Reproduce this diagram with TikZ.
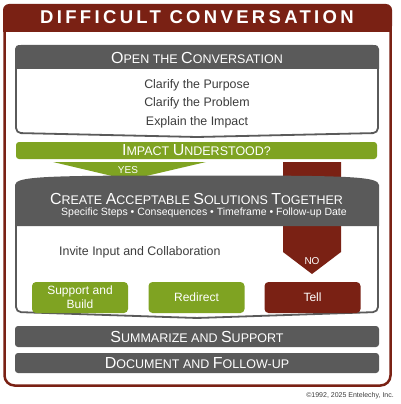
\documentclass[tikz,border=0pt]{standalone}
\usepackage{fontspec}
\setmainfont{Liberation Sans}
\newfontfamily\titlefont[LetterSpace=18]{Liberation Sans}
\usetikzlibrary{positioning}
\definecolor{framered}{HTML}{7A2114}
\definecolor{headgray}{HTML}{5A5A5A}
\definecolor{okgreen}{HTML}{7FA322}
\definecolor{bodytext}{HTML}{3C3C3C}
\newcommand\bigini[1]{{\fontsize{16}{18}\selectfont #1}}

\begin{document}
\begin{tikzpicture}[x=1pt, y=-1pt,
    bar/.style={rounded corners=3pt, minimum width=364pt, inner sep=0pt, text=white, font=\fontsize{12.5}{14}\selectfont},
    choice/.style={rounded corners=4pt, minimum width=96pt, minimum height=31pt, inner sep=1pt, text=white, align=center, font=\fontsize{12}{14}\selectfont},
    item/.style={text=bodytext, font=\fontsize{12.4}{14}\selectfont, inner sep=0pt},
    body/.style={fill=white, draw=headgray, line width=1.8pt, rounded corners=5pt},
    heading/.style={text=white, font=\fontsize{12.5}{14}\selectfont, inner sep=0pt},
    tag/.style={text=white, font=\fontsize{10}{12}\selectfont, inner sep=0pt}
]
    \useasboundingbox (0,0) rectangle (400,404);

    % Outer frame and title band
    \draw[framered, line width=2.5pt, rounded corners=10pt] (4.5,12) rectangle (390.5,385.5);
    \fill[framered, rounded corners=6pt] (3,4) rectangle (392,32);
    \fill[framered] (3,20) rectangle (392,32);
    \node[text=white, font=\titlefont\bfseries\fontsize{18.5}{20}\selectfont, inner sep=0pt] (title) at (197,17.5) {DIFFICULT CONVERSATION};

    % Open the conversation
    \draw[body] (16,66) -- (16,133) -- (197,137) -- (378,133) -- (378,66);
    \fill[headgray] (15,69) -- (15,49) .. controls (15,46) and (17,45) .. (21,45) -- (373,45)
        .. controls (377,45) and (379,46) .. (379,49) -- (379,69) -- cycle;
    \node[heading] (open) at (197,58) {\bigini{O}PEN THE \bigini{C}ONVERSATION};
    \node[item] (purpose) at (197,85) {Clarify the Purpose};
    \node[item] (problem) at (197,103.5) {Clarify the Problem};
    \node[item] (impactx) at (197,122) {Explain the Impact};

    % Decision bar
    \node[bar, fill=okgreen, minimum width=361pt, minimum height=17pt] (impact) at (196.5,150.5)
        {\bigini{I}MPACT \bigini{U}NDERSTOOD?};

    % Create acceptable solutions
    \draw[body] (16,222) -- (16,312) -- (197,318) -- (378,312) -- (378,222);
    \fill[framered] (283,162) -- (341,162) -- (341,252) -- (312,274) -- (283,252) -- cycle;
    \fill[okgreen] (53,162) -- (206,162) -- (129,180) -- cycle;
    \fill[headgray] (15,226) -- (15,185) .. controls (15,176) and (50,175.5) .. (197,175.5)
        .. controls (344,175.5) and (379,176) .. (379,185) -- (379,226) -- cycle;
    \node[tag] (yes) at (128,170.5) {YES};
    \node[tag] (no) at (312,261) {NO};
    \node[heading] (create) at (196.5,198.5)
        {\bigini{C}REATE \bigini{A}CCEPTABLE \bigini{S}OLUTIONS \bigini{T}OGETHER};
    \node[tag, font=\fontsize{10.5}{12}\selectfont] (details) at (204,212.5)
        {Specific Steps \textbullet{} Consequences \textbullet{} Timeframe \textbullet{} Follow-up Date};
    \node[item, anchor=west] (invite) at (59,252) {Invite Input and Collaboration};

    % Responses
    \node[choice, fill=okgreen] (support) at (80,297.5) {Support and\\Build};
    \node[choice, fill=okgreen] (redirect) at (196.5,297.5) {Redirect};
    \node[choice, fill=framered] (tell) at (312.5,297.5) {Tell};

    % Closing steps
    \node[bar, fill=headgray, minimum height=21pt] (summarize) at (197,336.5)
        {\bigini{S}UMMARIZE AND \bigini{S}UPPORT};
    \node[bar, fill=headgray, minimum height=20pt] (document) at (197,363)
        {\bigini{D}OCUMENT AND \bigini{F}OLLOW-UP};

    \node[anchor=east, text=bodytext, font=\fontsize{7}{8}\selectfont, inner sep=0pt] (copy) at (394,396)
        {\textcopyright1992, 2025 Entelechy, Inc.};
\end{tikzpicture}
\end{document}
